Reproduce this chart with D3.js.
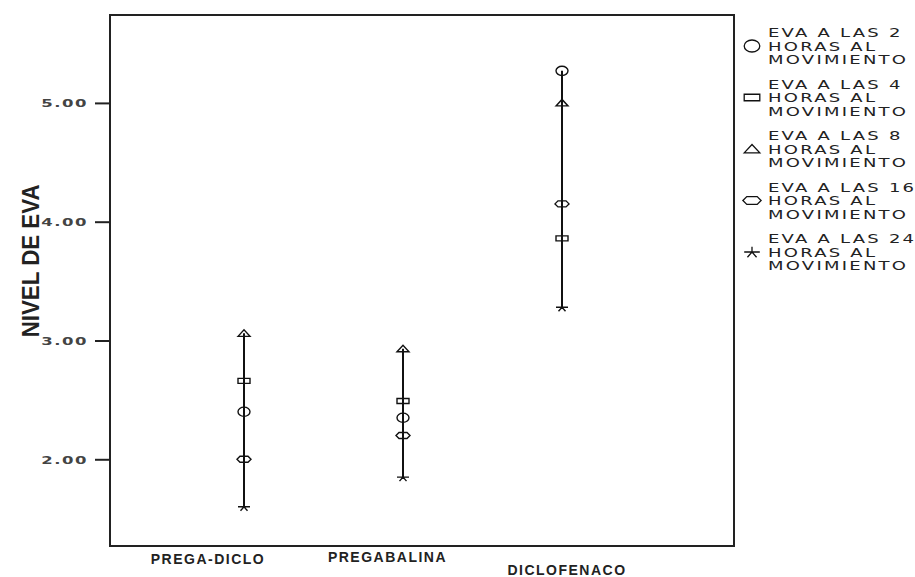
<!DOCTYPE html>
<html><head><meta charset="utf-8">
<script src="https://cdn.jsdelivr.net/npm/d3@7"></script>
<style>body{margin:0;background:#fff}svg{display:block}</style>
</head><body><svg id="c" width="915" height="577"></svg>
<script>
// ---------- data ----------
const categories = ["PREGA-DICLO", "PREGABALINA", "DICLOFENACO"];
const eva2h  = [2.40, 2.35, 5.27];
const eva4h  = [2.66, 2.49, 3.86];
const eva8h  = [3.06, 2.93, 5.00];
const eva16h = [2.00, 2.20, 4.15];
const eva24h = [1.60, 1.85, 3.28];
const seriesLabels = [
  ["EVA A LAS 2", "HORAS AL", "MOVIMIENTO"],
  ["EVA A LAS 4", "HORAS AL", "MOVIMIENTO"],
  ["EVA A LAS 8", "HORAS AL", "MOVIMIENTO"],
  ["EVA A LAS 16", "HORAS AL", "MOVIMIENTO"],
  ["EVA A LAS 24", "HORAS AL", "MOVIMIENTO"]
];
const yTicks = [2, 3, 4, 5];
const yTitle = "NIVEL DE EVA";

// ---------- layout ----------
const plot = {left: 110, right: 734, top: 15, bottom: 546};
const labelDy = [0, -2, 11];
const series = [eva2h, eva4h, eva8h, eva16h, eva24h];
const shapes = ["circle", "rect", "tri", "hex", "star"];

const svg = d3.select("#c");
const y = d3.scaleLinear().domain([1.27, 5.74]).range([plot.bottom, plot.top]);
const x = d3.scalePoint().domain(categories).range([244, 562]);
const xl = d3.scalePoint().domain(categories).range([208, 567]);

function shapePath(kind, s) {
  const p = d3.path();
  if (kind === "circle") {
    const rx = 6 * s, ry = 4.6 * s, k = 0.5523;
    p.moveTo(rx, 0);
    p.bezierCurveTo(rx, ry * k, rx * k, ry, 0, ry);
    p.bezierCurveTo(-rx * k, ry, -rx, ry * k, -rx, 0);
    p.bezierCurveTo(-rx, -ry * k, -rx * k, -ry, 0, -ry);
    p.bezierCurveTo(rx * k, -ry, rx, -ry * k, rx, 0);
    p.closePath();
  } else if (kind === "rect") {
    p.rect(-6 * s, -2.5 * s, 12 * s, 5 * s);
  } else if (kind === "tri") {
    p.moveTo(-6 * s, 3 * s); p.lineTo(0, -3.5 * s); p.lineTo(6 * s, 3 * s); p.closePath();
  } else if (kind === "hex") {
    p.moveTo(-7 * s, 0); p.lineTo(-4 * s, -3 * s); p.lineTo(4 * s, -3 * s);
    p.lineTo(7 * s, 0); p.lineTo(4 * s, 3 * s); p.lineTo(-4 * s, 3 * s); p.closePath();
  } else {
    p.moveTo(-6 * s, 0); p.lineTo(6 * s, 0);
    p.moveTo(0, -4 * s); p.lineTo(0, 0);
    p.moveTo(-3.5 * s, 4 * s); p.lineTo(0, 0); p.lineTo(3.5 * s, 4 * s);
  }
  return p.toString();
}

// frame
svg.append("rect").attr("x", plot.left).attr("y", plot.top)
  .attr("width", plot.right - plot.left).attr("height", plot.bottom - plot.top)
  .attr("fill", "none").attr("stroke", "#222").attr("stroke-width", 2);

// y axis
const yAxis = svg.append("g").attr("transform", `translate(${plot.left},0)`)
  .call(d3.axisLeft(y).tickValues(yTicks).tickFormat(d3.format(".2f")).tickSize(15).tickSizeOuter(0));
yAxis.select(".domain").remove();
yAxis.selectAll(".tick line").attr("stroke", "#222").attr("stroke-width", 2);
yAxis.selectAll(".tick text")
  .attr("x", 0).attr("dy", "0.36em")
  .attr("transform", "translate(-22,0) scale(1.5,1)")
  .attr("font-family", "DejaVu Sans, Verdana, sans-serif")
  .attr("font-size", 11).attr("letter-spacing", 1)
  .attr("font-weight", "bold")
  .attr("fill", "#444");

// y title
svg.append("text")
  .attr("transform", `translate(39,${y(3.67)}) rotate(-90) scale(0.93,1)`)
  .attr("text-anchor", "middle")
  .attr("font-family", "Liberation Sans, Arial, sans-serif")
  .attr("font-weight", "bold").attr("font-size", 24)
  .attr("fill", "#222").text(yTitle);

// x labels
svg.append("g").selectAll("text").data(categories).join("text")
  .attr("x", d => xl(d)).attr("y", (d, i) => 564 + labelDy[i])
  .attr("text-anchor", "middle")
  .attr("font-family", "Liberation Sans, Arial, sans-serif")
  .attr("font-size", 14).attr("font-weight", "bold").attr("letter-spacing", 1.5)
  .attr("fill", "#222").text(d => d);

// high-low lines
const g = svg.append("g");
categories.forEach((c, i) => {
  const vals = series.map(s => s[i]);
  g.append("line").attr("x1", x(c)).attr("x2", x(c))
    .attr("y1", y(d3.min(vals))).attr("y2", y(d3.max(vals)))
    .attr("stroke", "#111").attr("stroke-width", 2);
});
series.forEach((s, k) => {
  g.append("g").selectAll("path").data(s).join("path")
    .attr("transform", (d, i) => `translate(${x(categories[i])},${y(d)})`)
    .attr("d", shapePath(shapes[k], 1))
    .attr("fill", "none").attr("stroke", "#111").attr("stroke-width", 1.4);
});

// legend
const leg = svg.append("g");
seriesLabels.forEach((lines, k) => {
  const cy = 46 + k * 51.5;
  leg.append("path").attr("transform", `translate(752,${cy})`)
    .attr("d", shapePath(shapes[k], 1.3))
    .attr("fill", "none").attr("stroke", "#111").attr("stroke-width", 1.3);
  lines.forEach((t, j) => {
    leg.append("text")
      .attr("transform", `translate(768,${cy + (j - 1) * 13.5 + 4.5}) scale(1.5,1)`)
      .attr("font-family", "DejaVu Sans, Verdana, sans-serif")
      .attr("font-size", 12).attr("letter-spacing", 1.5)
      .attr("fill", "#222").text(t);
  });
});
</script></body></html>
